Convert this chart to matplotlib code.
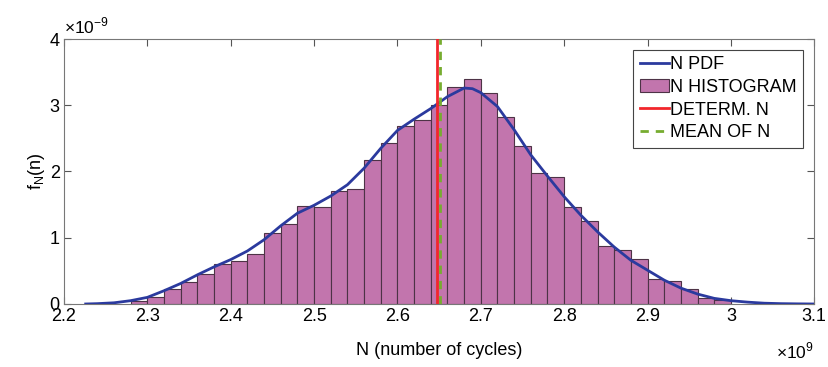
import numpy as np
import matplotlib
matplotlib.use("Agg")
import matplotlib.pyplot as plt

plt.rcParams['font.family'] = ['Liberation Sans', 'DejaVu Sans']
plt.rcParams['mathtext.fontset'] = 'custom'
plt.rcParams['mathtext.rm'] = 'Liberation Sans'

# histogram: left bin edges (x1e9) and density (x1e-9)
bin_left = [2.28, 2.30, 2.32, 2.34, 2.36, 2.38, 2.40, 2.42, 2.44, 2.46,
            2.48, 2.50, 2.52, 2.54, 2.56, 2.58, 2.60, 2.62, 2.64, 2.66,
            2.68, 2.70, 2.72, 2.74, 2.76, 2.78, 2.80, 2.82, 2.84, 2.86,
            2.88, 2.90, 2.92, 2.94, 2.96, 2.98]
bin_height = [0.05, 0.10, 0.22, 0.33, 0.46, 0.60, 0.65, 0.76, 1.07, 1.20,
              1.48, 1.46, 1.71, 1.73, 2.17, 2.43, 2.69, 2.77, 3.01, 3.28,
              3.39, 3.18, 2.83, 2.38, 1.97, 1.92, 1.47, 1.26, 0.875, 0.815,
              0.684, 0.37, 0.34, 0.22, 0.085, 0.06]
bin_width = 0.02

# fitted pdf curve
pdf_x = [2.226, 2.24, 2.26, 2.28, 2.30, 2.32, 2.34, 2.36, 2.38, 2.40,
         2.42, 2.44, 2.46, 2.48, 2.50, 2.52, 2.54, 2.56, 2.58, 2.60,
         2.62, 2.64, 2.66, 2.68, 2.69, 2.70, 2.72, 2.74, 2.76, 2.78,
         2.80, 2.82, 2.84, 2.86, 2.88, 2.90, 2.92, 2.94, 2.96, 2.98,
         3.00, 3.02, 3.04, 3.06, 3.08, 3.10]
pdf_y = [0.0, 0.005, 0.018, 0.05, 0.10, 0.20, 0.31, 0.44, 0.56, 0.67,
         0.80, 0.97, 1.18, 1.37, 1.49, 1.63, 1.80, 2.05, 2.35, 2.62,
         2.79, 2.95, 3.13, 3.26, 3.25, 3.19, 2.98, 2.63, 2.25, 1.93,
         1.62, 1.34, 1.09, 0.86, 0.66, 0.51, 0.36, 0.24, 0.15, 0.085,
         0.05, 0.028, 0.012, 0.005, 0.002, 0.0]

determ_n = 2.647
mean_n = 2.651

fig = plt.figure(figsize=(8.29, 3.67), dpi=100)
ax = fig.add_axes([0.0772, 0.1717, 0.905, 0.722])

h_pdf, = ax.plot(pdf_x, pdf_y, color='#2B3A9E', lw=2, label='N PDF', zorder=3)
h_hist = ax.bar(bin_left, bin_height, width=bin_width, align='edge',
                color='#C275AD', edgecolor='#4D3346', lw=0.8,
                label='N HISTOGRAM', zorder=2)
h_det = ax.axvline(determ_n, color='#F2262B', lw=2, label='DETERM. N', zorder=4)
h_mean = ax.axvline(mean_n, color='#77AC30', lw=2, ls=(0, (3, 2.5)),
                    label='MEAN OF N', zorder=4)

ax.set_xlim(2.2, 3.1)
ax.set_ylim(0, 4)
ax.set_xticks(np.arange(2.2, 3.11, 0.1))
ax.set_xticklabels(['2.2', '2.3', '2.4', '2.5', '2.6', '2.7', '2.8', '2.9', '3', '3.1'])
ax.set_yticks([0, 1, 2, 3, 4])
ax.tick_params(direction='in', top=True, right=True, labelsize=13, length=5,
               width=0.8, color='#555555', pad=3)
for s in ax.spines.values():
    s.set_color('#777777')
    s.set_linewidth(0.8)

ax.set_xlabel('N (number of cycles)', fontsize=13, labelpad=12)
ax.set_ylabel(r'f$_\mathregular{N}$(n)', fontsize=13, labelpad=2)

ax.text(0.0, 1.01, r'$\times$10$^{-9}$', transform=ax.transAxes, fontsize=12.5,
        ha='left', va='bottom')
ax.text(1.0, -0.205, r'$\times$10$^{9}$', transform=ax.transAxes, fontsize=12.5,
        ha='right', va='baseline')

leg = ax.legend([h_pdf, h_hist, h_det, h_mean],
                ['N PDF', 'N HISTOGRAM', 'DETERM. N', 'MEAN OF N'],
                loc='upper right', fontsize=13, frameon=True, fancybox=False,
                borderaxespad=0.6, handlelength=1.6, handletextpad=0.1,
                labelspacing=0.32, borderpad=0.35, framealpha=1)
leg.get_frame().set_edgecolor('#444444')
leg.get_frame().set_linewidth(0.8)

fig.savefig('out.png', dpi=100)
